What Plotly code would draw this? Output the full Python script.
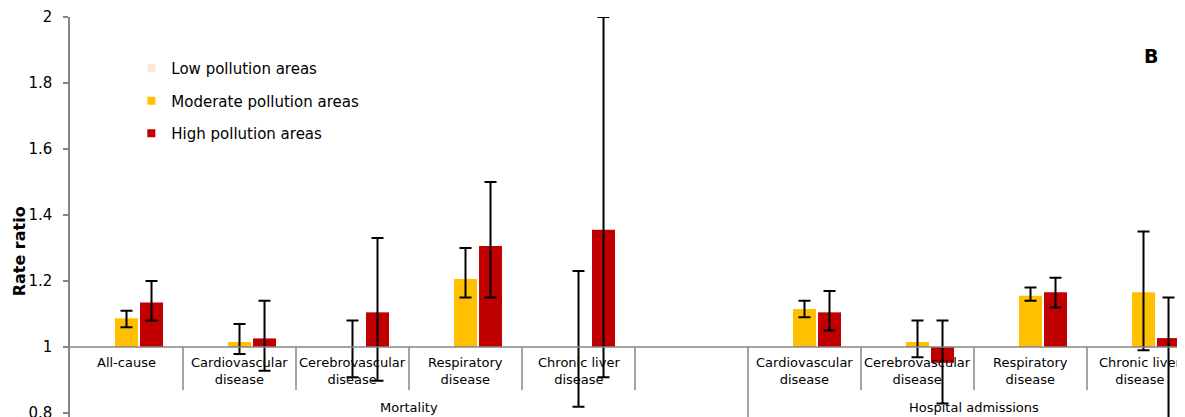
import numpy as np
import plotly.graph_objects as go

# ---------------- data ----------------
categories = ["All-cause", "Cardiovascular<br>disease", "Cerebrovascular<br>disease",
              "Respiratory<br>disease", "Chronic liver<br>disease", "",
              "Cardiovascular<br>disease", "Cerebrovascular<br>disease",
              "Respiratory<br>disease", "Chronic liver<br>disease"]
groups = ["Mortality", "Hospital admissions"]
group_slots = [[0, 5], [6, 9]]

low = [1.0, 1.0, 1.0, 1.0, 1.0, np.nan, 1.0, 1.0, 1.0, 1.0]

moderate = [1.087, 1.015, 1.0, 1.206, 1.0, np.nan, 1.115, 1.015, 1.155, 1.166]
moderate_lo = [1.06, 0.979, 0.908, 1.15, 0.819, np.nan, 1.09, 0.969, 1.14, 0.99]
moderate_hi = [1.11, 1.07, 1.08, 1.30, 1.23, np.nan, 1.14, 1.08, 1.18, 1.35]

high = [1.135, 1.026, 1.105, 1.306, 1.355, np.nan, 1.105, 0.952, 1.166, 1.027]
high_lo = [1.08, 0.928, 0.898, 1.15, 0.908, np.nan, 1.05, 0.829, 1.12, 0.75]
high_hi = [1.20, 1.14, 1.33, 1.50, 2.0, np.nan, 1.17, 1.08, 1.21, 1.15]

y_ticks = [0.8, 1.0, 1.2, 1.4, 1.6, 1.8, 2.0]
y_ticktext = ["0.8", "1", "1.2", "1.4", "1.6", "1.8", "2"]

series_names = ["Low pollution areas", "Moderate pollution areas", "High pollution areas"]
colors = ["#FCE4D6", "#FFC000", "#C00000"]

BASE = 1.0
FONT = "DejaVu Sans, Verdana, sans-serif"
GRAY = "#868686"

x = np.arange(len(categories))
fig = go.Figure()


def add_series(vals, lo, hi, name, color):
    v = np.array(vals, dtype=float)
    kw = {}
    if lo is not None:
        lo = np.array(lo, dtype=float)
        hi = np.array(hi, dtype=float)
        kw["error_y"] = dict(type="data", symmetric=False,
                             array=np.nan_to_num(hi - v), arrayminus=np.nan_to_num(v - lo),
                             color="black", thickness=2, width=6)
    fig.add_trace(go.Bar(x=x, y=v - BASE, base=BASE, name=name,
                         marker=dict(color=color, line=dict(width=0)),
                         showlegend=False, hoverinfo="skip", **kw))


add_series(low, None, None, series_names[0], colors[0])
add_series(moderate, moderate_lo, moderate_hi, series_names[1], colors[1])
add_series(high, high_lo, high_hi, series_names[2], colors[2])

# legend entries
for i, (n, c) in enumerate(zip(series_names, colors)):
    fig.add_trace(go.Scatter(x=[None], y=[None], mode="markers", name=n,
                             legendgroup=str(i),
                             marker=dict(symbol="square", size=8, color=c)))

shapes = []
# baseline at 1
shapes.append(dict(type="line", xref="paper", yref="y", x0=0, x1=1, y0=BASE, y1=BASE,
                   line=dict(color=GRAY, width=1.5)))
# slot dividers
for i in range(len(categories) - 1):
    b = i + 0.5
    long = any(b == g[1] + 0.5 for g in group_slots[:-1])
    shapes.append(dict(type="line", xref="x", yref="y", x0=b, x1=b,
                       y0=BASE, y1=(0.7 if long else 0.87),
                       line=dict(color=GRAY, width=1.5)))

annotations = []
for i, c in enumerate(categories):
    if c:
        annotations.append(dict(x=i, y=0.982, xref="x", yref="y", text=c, showarrow=False,
                                yanchor="top", xanchor="center",
                                xshift=(-4 if i == len(categories) - 1 else 0),
                                font=dict(family=FONT, size=13, color="black")))
for g, (a, b) in zip(groups, group_slots):
    annotations.append(dict(x=(a + b + 1) / 2 - 0.5, y=0.817, xref="x", yref="y", text=g,
                            showarrow=False, yanchor="middle",
                            font=dict(family=FONT, size=13, color="black")))
annotations.append(dict(x=-0.0457, y=1.29, xref="paper", yref="y", text="<b>Rate ratio</b>",
                        textangle=-90, showarrow=False, xanchor="center", yanchor="middle",
                        font=dict(family=FONT, size=16, color="black")))
annotations.append(dict(x=0.9695, y=1.883, xref="paper", yref="y", text="<b>B</b>",
                        showarrow=False, xanchor="center", yanchor="middle",
                        font=dict(family=FONT, size=19, color="black")))

# the page body adds an 8px offset; the figure is sized so the plot area
# lands at (70, 17) in the 1185x417 window
OFF = 8
W, H = 1185 - OFF, 417 - OFF
ml, mt = 70 - OFF, 17 - OFF
slot_px = 113.0
x_end = -0.5 + (W - ml) / slot_px
px_per_unit = 330.0
y_min = 0.8 - (417 - 413) / px_per_unit

fig.update_layout(
    width=W, height=H,
    margin=dict(l=ml, r=0, t=mt, b=0, autoexpand=False),
    paper_bgcolor="white", plot_bgcolor="white",
    barmode="group", bargap=0.336, bargroupgap=0.08,
    font=dict(family=FONT, color="black"),
    xaxis=dict(range=[-0.5, x_end], visible=False, fixedrange=True, automargin=False),
    yaxis=dict(range=[y_min, 2.0], tickvals=y_ticks, ticktext=y_ticktext,
               showline=True, linecolor=GRAY, linewidth=1.5, automargin=False,
               ticks="outside", ticklen=5, tickcolor=GRAY, tickwidth=1.5,
               showgrid=False, zeroline=False, ticklabelstandoff=8,
               ticklabeloverflow="allow",
               tickfont=dict(family=FONT, size=15, color="black")),
    legend=dict(x=0.055, y=0.9125, xanchor="left", yanchor="top",
                bgcolor="rgba(0,0,0,0)", tracegroupgap=10,
                font=dict(family=FONT, size=15, color="black")),
    shapes=shapes, annotations=annotations,
)

fig.write_html("out.html")
